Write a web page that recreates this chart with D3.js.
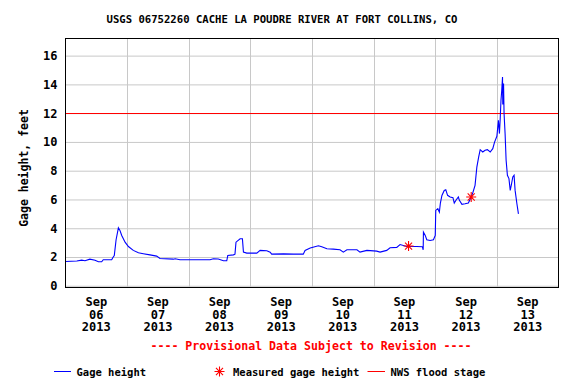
<!DOCTYPE html>
<html>
<head>
<meta charset="utf-8">
<script src="https://cdn.jsdelivr.net/npm/d3@7"></script>
<style>
  body { margin: 0; background: #fff; }
  svg { display: block; font-family: "DejaVu Sans Mono", monospace; font-weight: bold; }
</style>
</head>
<body>
<div id="chart"></div>
<script>
// hours since 2013-09-06 00:00 and gage height (feet)
const hours = [0, 4.4, 6.3, 7.6, 9.5, 11.5, 12.8, 14.1, 14.7, 18.0, 18.4, 19.0, 19.7, 20.6, 21.2, 21.9,
  23.2, 24.5, 26.4, 28.4, 30.3, 32.9, 35.5, 36.8, 42.0, 42.7, 44.6, 56.3, 57.6, 59.5, 61.5, 62.8,
  63.2, 65.4, 66.0, 66.4, 68.0, 68.9, 69.3, 70.6, 74.5, 75.8, 78.4, 79.7, 80.3, 84.9, 88.8, 92.6,
  93.3, 95.3, 98.5, 99.8, 101.8, 104.3, 106.9, 108.2, 109.6, 113.5, 114.7, 117.4, 121.2, 122.5,
  125.1, 126.4, 129.0, 130.3, 132.9, 136.8, 139.0, 139.3, 139.4, 140.1, 140.7, 142.0, 143.3, 144.0,
  144.2, 145.0, 145.6, 146.0, 146.6, 147.5, 148.1, 148.8, 149.8, 150.9, 151.4, 152.2, 153.0, 153.4,
  154.4, 155.6, 156.9, 158.0, 158.6, 159.5, 160.2, 160.9, 161.5, 162.5, 163.4, 164.3, 165.4, 166.4,
  167.1, 168.0, 168.6, 169.0, 169.3, 169.6, 169.9, 170.2, 170.3, 170.6, 170.8, 171.2, 171.6, 172.1,
  172.7, 173.2, 173.6, 174.2, 174.7, 175.1, 175.8, 176.4];
const gage = [1.69, 1.72, 1.78, 1.74, 1.85, 1.78, 1.67, 1.67, 1.81, 1.81, 1.95, 2.1, 3.2, 4.03, 3.85, 3.5,
  3.03, 2.73, 2.46, 2.29, 2.23, 2.15, 2.06, 1.9, 1.85, 1.88, 1.81, 1.81, 1.88, 1.86, 1.74, 1.74,
  2.1, 2.15, 2.2, 3.03, 3.27, 3.27, 2.34, 2.27, 2.27, 2.46, 2.43, 2.34, 2.2, 2.22, 2.2, 2.2,
  2.46, 2.62, 2.78, 2.71, 2.57, 2.55, 2.5, 2.34, 2.5, 2.5, 2.34, 2.46, 2.41, 2.34,
  2.46, 2.64, 2.67, 2.87, 2.73, 2.73, 2.71, 2.5, 3.73, 3.5, 3.2, 3.15, 3.2, 3.5,
  5.24, 5.36, 5.12, 5.75, 6.28, 6.63, 6.68, 6.29, 6.17, 6.12, 5.75, 5.98, 6.17, 5.94,
  5.66, 5.7, 5.75, 6.17, 6.45, 6.98, 8.25, 8.95, 9.46, 9.3, 9.42, 9.46, 9.3, 9.53,
  9.99, 10.39, 11.5, 10.58, 11.62, 12.9, 13.59, 14.52, 12.6, 14.06, 11.97, 10.58, 8.72, 7.68,
  7.45, 6.63, 6.98, 7.56, 7.68, 6.63, 5.7, 5.0];
const measHours = [133.6, 158.0];
const measGage = [2.76, 6.17];
const floodStage = 12;
const yTicks = [0, 2, 4, 6, 8, 10, 12, 14, 16];
const dayLabels = ["06", "07", "08", "09", "10", "11", "12", "13"];

const W = 576, H = 384;
const pL = 65.5, pR = 558.5, pT = 38.5, pB = 287.5;
const start = new Date(2013, 8, 6);
const end = new Date(2013, 8, 14);
const toDate = h => new Date(start.getTime() + h * 3600e3);

const svg = d3.select("#chart").append("svg")
  .attr("width", W).attr("height", H);

const x = d3.scaleTime().domain([start, end]).range([pL, pR]);
const y = d3.scaleLinear().domain([-0.12, 17.19]).range([pB, pT]);

// title
svg.append("text")
  .attr("x", 282).attr("y", 23)
  .attr("text-anchor", "middle")
  .attr("font-size", "10.6px")
  .text("USGS 06752260 CACHE LA POUDRE RIVER AT FORT COLLINS, CO");

// horizontal grid + y labels
const yAxis = svg.append("g")
  .attr("transform", `translate(${pL},0)`)
  .call(d3.axisLeft(y).tickValues(yTicks).tickSize(-(pR - pL)).tickPadding(8).tickFormat(d3.format("d")));
yAxis.select(".domain").remove();
yAxis.selectAll(".tick line").attr("stroke", "#c8c8c8");
yAxis.selectAll(".tick text")
  .attr("font-size", "12px").attr("font-family", "DejaVu Sans Mono").attr("font-weight", "bold")
  .attr("fill", "#000");

// vertical grid at midnight
const days = d3.timeDay.range(d3.timeDay.offset(start, 1), end);
svg.append("g").selectAll("line")
  .data(days)
  .join("line")
  .attr("x1", d => Math.round(x(d)) + 0.5).attr("x2", d => Math.round(x(d)) + 0.5)
  .attr("y1", pT).attr("y2", pB)
  .attr("stroke", "#c8c8c8");

// x labels centred on each day
const xl = svg.append("g").selectAll("text")
  .data(dayLabels)
  .join("text")
  .attr("text-anchor", "middle")
  .attr("font-size", "12px");
xl.each(function(d, i) {
  const cx = x(toDate(i * 24 + 12));
  const t = d3.select(this);
  ["Sep", d, "2013"].forEach((s, k) => {
    t.append("tspan").attr("x", cx).attr("y", 306 + k * 12.5).text(s);
  });
});

// flood stage
svg.append("line")
  .attr("x1", pL).attr("x2", pR)
  .attr("y1", Math.round(y(floodStage)) + 0.5).attr("y2", Math.round(y(floodStage)) + 0.5)
  .attr("stroke", "#ff0000");

// gage height
const line = d3.line()
  .x((d, i) => x(toDate(hours[i])))
  .y(d => y(d));
svg.append("path")
  .datum(gage)
  .attr("fill", "none")
  .attr("stroke", "#0000ff")
  .attr("stroke-width", 1.1)
  .attr("d", line);

// measured points
function star(r) {
  const a = r * Math.SQRT1_2;
  return `M${-r},0L${r},0M0,${-r}L0,${r}M${-a},${-a}L${a},${a}M${-a},${a}L${a},${-a}`;
}
svg.append("g").selectAll("path")
  .data(measGage)
  .join("path")
  .attr("transform", (d, i) => `translate(${x(toDate(measHours[i]))},${y(d)})`)
  .attr("d", star(5))
  .attr("stroke", "#ff0000")
  .attr("stroke-width", 1.1)
  .attr("fill", "none");

// frame
svg.append("rect")
  .attr("x", pL).attr("y", pT)
  .attr("width", pR - pL).attr("height", pB - pT)
  .attr("fill", "none").attr("stroke", "#000");

// y label
svg.append("text")
  .attr("transform", "translate(28,168) rotate(-90)")
  .attr("text-anchor", "middle")
  .attr("font-size", "11.5px")
  .text("Gage height, feet");

// provisional note
svg.append("text")
  .attr("x", 311).attr("y", 349.5)
  .attr("text-anchor", "middle")
  .attr("font-size", "11.6px")
  .attr("fill", "#ff0000")
  .text("---- Provisional Data Subject to Revision ----");

// legend
const lg = svg.append("g").attr("font-size", "10.5px");
lg.append("line").attr("x1", 54).attr("x2", 71).attr("y1", 371.5).attr("y2", 371.5).attr("stroke", "#0000ff");
lg.append("text").attr("x", 76.5).attr("y", 375.5).text("Gage height");
lg.append("path").attr("transform", "translate(219.5,371.5)").attr("d", star(5))
  .attr("stroke", "#ff0000").attr("stroke-width", 1.1);
lg.append("text").attr("x", 233).attr("y", 375.5).text("Measured gage height");
lg.append("line").attr("x1", 367.5).attr("x2", 385).attr("y1", 371.5).attr("y2", 371.5).attr("stroke", "#ff0000");
lg.append("text").attr("x", 390.5).attr("y", 375.5).text("NWS flood stage");
</script>
</body>
</html>
